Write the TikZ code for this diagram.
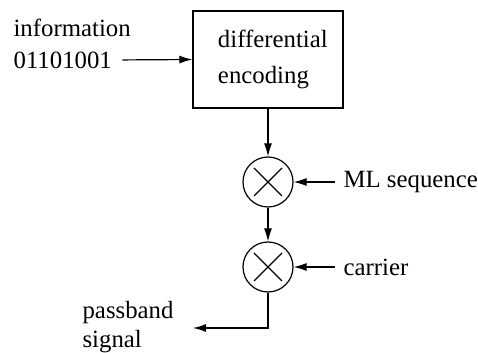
\documentclass[tikz,border=0pt]{standalone}
\usepackage{fontspec}
\setmainfont{Liberation Serif}
\usetikzlibrary{arrows.meta,positioning,calc}

\begin{document}
\begin{tikzpicture}[
  x=0.5pt, y=-0.5pt,
  font=\fontsize{12.4pt}{16pt}\selectfont,
  line width=0.6pt,
  blockbox/.style={draw, minimum width=75pt, minimum height=48.5pt,
                   text width=50pt, inner xsep=12.5pt, align=left,
                   font=\fontsize{12.4pt}{18pt}\selectfont},
  mixer/.style={draw, circle, minimum size=25pt, inner sep=0pt,
                path picture={
                  \draw ($(path picture bounding box.center)+(-7pt,-7pt)$) -- +(14pt,14pt);
                  \draw ($(path picture bounding box.center)+(-7pt,7pt)$) -- +(14pt,-14pt);
                }},
  lbl/.style={inner sep=0pt, align=left},
  ar/.style={-{Latex[length=6.5pt, width=4pt]}}
]
\useasboundingbox (0,0) rectangle (478,353);

% transmitter chain
\node[blockbox] (enc) at (268,59.5) {\hbox{differential}\\encoding};
\node[mixer] (mul1) at (268,182) {};
\node[mixer] (mul2) at (268,267) {};

% labels
\node[lbl, anchor=west] (info) at (13,28) {information};
\node[lbl, anchor=west] (bits) at (13,60) {01101001};
\node[lbl, anchor=west] (mlseq) at (343,182) {ML sequence};
\node[lbl, anchor=west] (carr) at (343,267) {carrier};
\node[lbl, anchor=west, font=\fontsize{12.4pt}{14.5pt}\selectfont]
  (pbs) at (82,327) {passband\\signal};
\coordinate (outend) at (193,328);

\draw[ar, shorten <=5pt] (bits.east) -- (enc.west);
\draw[ar] (enc) -- (mul1);
\draw[ar] (mul1) -- (mul2);
\draw[ar, shorten <=4pt] (mlseq.west) -- (mul1.east);
\draw[ar, shorten <=4pt] (carr.west) -- (mul2.east);
\draw[ar] (mul2.south) |- (outend);
\end{tikzpicture}
\end{document}
